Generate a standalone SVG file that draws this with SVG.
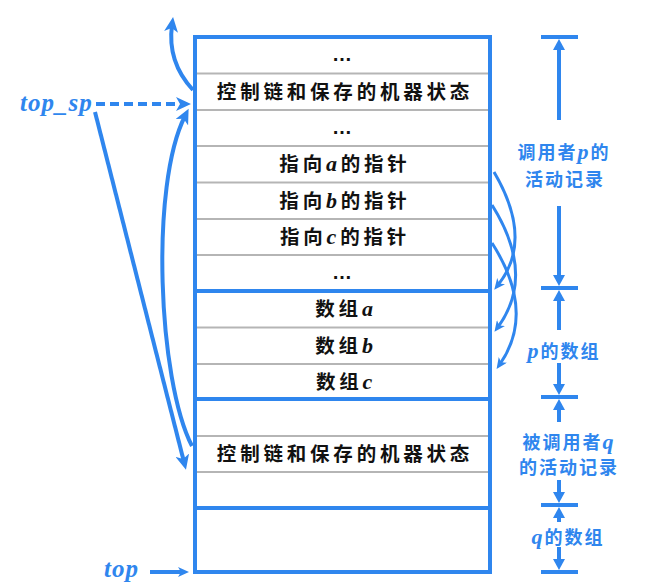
<svg xmlns="http://www.w3.org/2000/svg" width="648" height="583" viewBox="0 0 648 583">
<defs>
<style>
.box{fill:#fff;stroke:#2f86ee;stroke-width:4}
.thin{stroke:#b5b5b5;stroke-width:2}
.thick{stroke:#2f86ee;stroke-width:4}
.cell{font-family:"Noto Sans CJK SC",sans-serif;font-size:19.5px;font-weight:bold;fill:#111;text-anchor:middle;letter-spacing:3.8px}
.it{font-family:"Liberation Serif",serif;font-style:italic;font-weight:bold;font-size:22px}
.dots{font-family:"Liberation Sans",sans-serif;font-size:20px;font-weight:bold;fill:#111;text-anchor:middle}
.lab{font-family:"Noto Sans CJK SC",sans-serif;font-size:18px;font-weight:bold;fill:#2f86ee;text-anchor:middle;letter-spacing:2px}
.lit{font-family:"Liberation Serif",serif;font-style:italic;font-weight:bold;font-size:22px}
.ptr{font-family:"Liberation Serif",serif;font-style:italic;font-weight:bold;font-size:25px;fill:#2f86ee;letter-spacing:1px}
.con{fill:none;stroke:#2f86ee;stroke-width:4}
.con3{fill:none;stroke:#2f86ee;stroke-width:3}
</style>
<marker id="stealth" markerUnits="userSpaceOnUse" markerWidth="16" markerHeight="14" refX="7" refY="7" orient="auto">
<path d="M0,0 L15,7 L0,14 L4,7 z" fill="#2f86ee"/>
</marker>
<marker id="small" markerUnits="userSpaceOnUse" markerWidth="12" markerHeight="10" refX="5" refY="5" orient="auto">
<path d="M0,0 L11,5 L0,10 L3,5 z" fill="#2f86ee"/>
</marker>
<marker id="tri" markerUnits="userSpaceOnUse" markerWidth="13" markerHeight="13" refX="5" refY="6" orient="auto">
<path d="M0,0 L11,6 L0,12 z" fill="#2f86ee"/>
</marker>
</defs>

<g id="stack">
<rect class="box" x="195" y="37" width="295" height="535"/>
<line class="thin" x1="197" y1="73.5" x2="488" y2="73.5"/>
<line class="thin" x1="197" y1="110" x2="488" y2="110"/>
<line class="thin" x1="197" y1="146" x2="488" y2="146"/>
<line class="thin" x1="197" y1="182.5" x2="488" y2="182.5"/>
<line class="thin" x1="197" y1="219" x2="488" y2="219"/>
<line class="thin" x1="197" y1="255" x2="488" y2="255"/>
<line class="thin" x1="197" y1="327.5" x2="488" y2="327.5"/>
<line class="thin" x1="197" y1="364" x2="488" y2="364"/>
<line class="thin" x1="197" y1="436" x2="488" y2="436"/>
<line class="thin" x1="197" y1="472" x2="488" y2="472"/>
<line class="thick" x1="195" y1="291" x2="490" y2="291"/>
<line class="thick" x1="195" y1="399" x2="490" y2="399"/>
<line class="thick" x1="195" y1="508" x2="490" y2="508"/>
</g>

<g id="cells">
<text class="dots" x="342" y="61">…</text>
<text class="cell" x="345" y="99">控制链和保存的机器状态</text>
<text class="dots" x="342" y="134">…</text>
<text class="cell" x="345" y="171">指向<tspan class="it">a</tspan>的指针</text>
<text class="cell" x="345" y="208">指向<tspan class="it">b</tspan>的指针</text>
<text class="cell" x="345" y="244">指向<tspan class="it">c</tspan>的指针</text>
<text class="dots" x="342" y="279">…</text>
<text class="cell" x="346" y="316">数组<tspan class="it">a</tspan></text>
<text class="cell" x="346" y="353">数组<tspan class="it">b</tspan></text>
<text class="cell" x="346" y="389">数组<tspan class="it">c</tspan></text>
<text class="cell" x="345" y="461">控制链和保存的机器状态</text>
</g>

<g id="pointers">
<text class="ptr" x="20" y="111">top_sp</text>
<text class="ptr" x="104" y="577">top</text>
</g>

<g id="labels">
<text class="lab" x="564" y="159">调用者<tspan class="lit">p</tspan>的</text>
<text class="lab" x="565" y="186">活动记录</text>
<text class="lab" x="564" y="358"><tspan class="lit">p</tspan>的数组</text>
<text class="lab" x="569" y="449">被调用者<tspan class="lit">q</tspan></text>
<text class="lab" x="569" y="474">的活动记录</text>
<text class="lab" x="568" y="544"><tspan class="lit">q</tspan>的数组</text>
</g>

<g id="connectors">
<path class="con" d="M193,90 Q167,62 172,25" marker-end="url(#stealth)"/>
<path class="con" d="M96,104 H183" stroke-dasharray="9,5" marker-end="url(#stealth)"/>
<path class="con" d="M95,112 L184,462" marker-end="url(#stealth)"/>
<path class="con" d="M192,446 C158,380 150,185 185,116" marker-end="url(#stealth)"/>
<path class="con3" d="M494,172 Q534,240 498,285" marker-end="url(#small)"/>
<path class="con3" d="M492,205 Q536,275 498,327" marker-end="url(#small)"/>
<path class="con3" d="M492,243 Q536,312 500,364" marker-end="url(#small)"/>
<line class="con" x1="150" y1="572" x2="183" y2="572" stroke-width="3" marker-end="url(#small)"/>
</g>

<g id="dimensions">
<line class="thick" x1="541" y1="37" x2="578" y2="37"/>
<line class="thick" x1="541" y1="288" x2="578" y2="288"/>
<line class="thick" x1="541" y1="397" x2="578" y2="397"/>
<line class="thick" x1="541" y1="505" x2="578" y2="505"/>
<line class="thick" x1="541" y1="572" x2="578" y2="572"/>
<line class="thick" x1="559" y1="120" x2="559" y2="45" marker-end="url(#tri)"/>
<line class="thick" x1="559" y1="206" x2="559" y2="280" marker-end="url(#tri)"/>
<line class="thick" x1="559" y1="330" x2="559" y2="296" marker-end="url(#tri)"/>
<line class="thick" x1="559" y1="363" x2="559" y2="389" marker-end="url(#tri)"/>
<line class="thick" x1="559" y1="422" x2="559" y2="405" marker-end="url(#tri)"/>
<line class="thick" x1="559" y1="480" x2="559" y2="497" marker-end="url(#tri)"/>
<line class="thick" x1="559" y1="522" x2="559" y2="513" marker-end="url(#tri)"/>
<line class="thick" x1="559" y1="547" x2="559" y2="564" marker-end="url(#tri)"/>
</g>
</svg>
